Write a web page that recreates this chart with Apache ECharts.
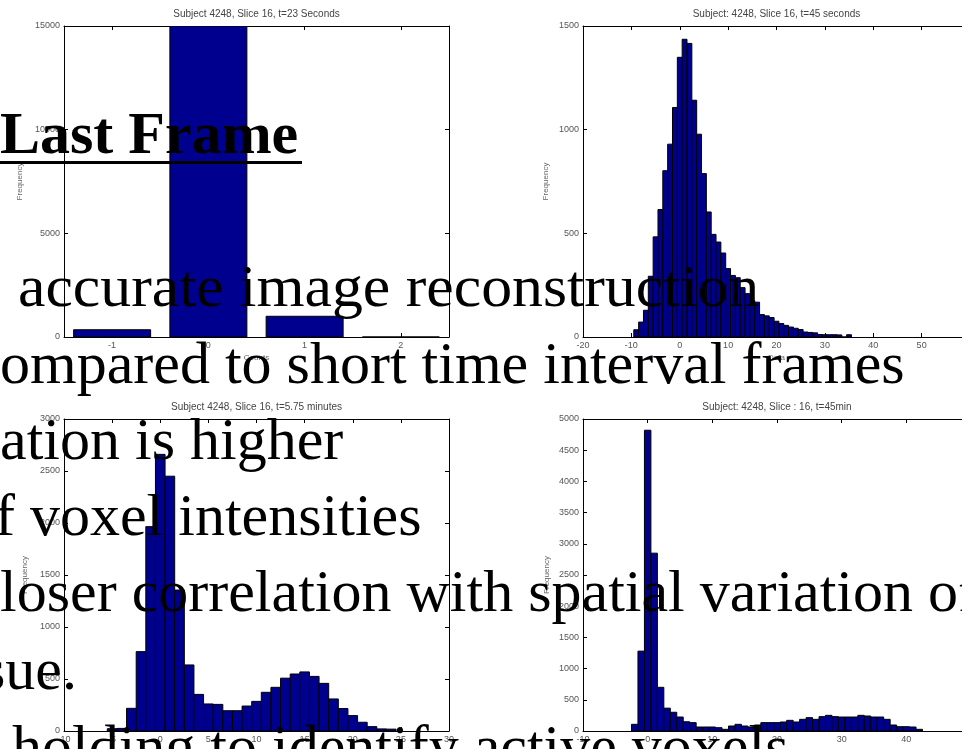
<!DOCTYPE html>
<html>
<head>
<meta charset="utf-8">
<script src="https://cdn.jsdelivr.net/npm/echarts@6.0.0/dist/echarts.min.js"></script>
<style>
html, body { margin: 0; padding: 0; background: #fff; overflow: hidden; }
#main { width: 962px; height: 749px; }
</style>
</head>
<body>
<div id="main"></div>
<script>
// histogram 1: t=23 seconds
var p1Title = 'Subject 4248, Slice 16, t=23 Seconds';
var p1Centers = [-1, 0, 1, 2];
var p1Counts = [350, 15000, 1000, 0];
var p1XTicks = [-1, 0, 1, 2];

// histogram 2: t=45 seconds
var p2Title = 'Subject: 4248, Slice 16, t=45 seconds';
var p2Centers = [-9, -8, -7, -6, -5, -4, -3, -2, -1, 0, 1, 2, 3, 4, 5, 6, 7, 8, 9, 10,
  11, 12, 13, 14, 15, 16, 17, 18, 19, 20, 21, 22, 23, 24, 25, 26, 27, 28, 29, 30,
  31, 32, 33, 34, 35];
var p2Counts = [35, 72, 129, 293, 483, 615, 802, 930, 1107, 1349, 1436, 1416, 1142, 978, 788, 603, 495, 458, 405, 330,
  297, 286, 238, 209, 176, 168, 108, 102, 94, 76, 65, 56, 48, 42, 36, 24, 22, 20, 12, 11,
  11, 11, 10, 0, 11];

// histogram 3: t=5.75 minutes
var p3Title = 'Subject 4248, Slice 16, t=5.75 minutes';
var p3Centers = [-5, -4, -3, -2, -1, 0, 1, 2, 3, 4, 5, 6, 7, 8, 9, 10, 11, 12, 13, 14,
  15, 16, 17, 18, 19, 20, 21, 22, 23, 24];
var p3Counts = [22, 25, 218, 763, 1965, 2660, 2450, 1355, 635, 352, 260, 256, 195, 195, 240, 285, 372, 420, 508, 548,
  568, 525, 458, 308, 216, 148, 84, 42, 20, 18];

// histogram 4: t=45 min
var p4Title = 'Subject: 4248, Slice : 16, t=45min';
var p4Centers = [-2, -1, 0, 1, 2, 3, 4, 5, 6, 7, 8, 9, 10, 11, 12, 13, 14, 15, 16, 17,
  18, 19, 20, 21, 22, 23, 24, 25, 26, 27, 28, 29, 30, 31, 32, 33, 34, 35, 36, 37,
  38, 39, 40, 41, 42];
var p4Counts = [107, 1280, 4820, 2850, 700, 366, 300, 224, 148, 134, 64, 64, 64, 53, 27, 80, 107, 80, 64, 96,
  134, 134, 134, 144, 171, 144, 187, 214, 187, 230, 251, 230, 224, 224, 224, 251, 240, 224, 224, 187,
  96, 69, 69, 64, 27];

// slide text lying over the figures
var slideHeading = 'Last Frame';
var slideLines = [
  'accurate image reconstruction',
  'ompared to short time interval frames',
  'ation is higher',
  'f voxel intensities',
  'loser correlation with spatial variation of',
  'sue.',
  'holding to identify active voxels'
];

function pairs(xs, ys) {
  return xs.map(function (x, i) { return [x, ys[i]]; });
}

function histItem(binWidth) {
  return function (params, api) {
    var x = api.value(0);
    var y = api.value(1);
    var a = api.coord([x - binWidth / 2, y]);
    var b = api.coord([x + binWidth / 2, 0]);
    return {
      type: 'rect',
      shape: { x: a[0], y: a[1], width: b[0] - a[0], height: b[1] - a[1] },
      style: { fill: '#00008f', stroke: '#000', lineWidth: 1 }
    };
  };
}

var panels = [
  { title: p1Title, data: pairs(p1Centers, p1Counts), bin: 0.8, box: [64, 26, 385, 311],
    xMin: -1.5, xMax: 2.5, xTicks: p1XTicks, yMax: 15000, yStep: 5000, xName: 'Counts', yGap: 40 },
  { title: p2Title, data: pairs(p2Centers, p2Counts), bin: 1, box: [583, 26, 387, 311],
    xMin: -20, xMax: 60, xStep: 10, yMax: 1500, yStep: 500, xName: 'Data', yGap: 33 },
  { title: p3Title, data: pairs(p3Centers, p3Counts), bin: 1, box: [64, 419, 385, 312],
    xMin: -10, xMax: 30, xStep: 5, yMax: 3000, yStep: 500, xName: 'Data', yGap: 35 },
  { title: p4Title, data: pairs(p4Centers, p4Counts), bin: 1, box: [583, 419, 388, 312],
    xMin: -10, xMax: 50, xStep: 10, yMax: 5000, yStep: 500, xName: 'Data', yGap: 32 }
];

var smallFont = 'Liberation Sans';
var plain = function (v) { return String(v); };
var line = { show: true, onZero: false, lineStyle: { color: '#000', width: 1 } };
var tick = { show: true, inside: true, length: 4, lineStyle: { color: '#000', width: 1 } };
var grids = [], xAxes = [], yAxes = [], series = [], graphics = [];

panels.forEach(function (p, i) {
  grids.push({ left: p.box[0], top: p.box[1], width: p.box[2], height: p.box[3],
    outerBoundsMode: 'none', containLabel: false });

  ['bottom', 'top'].forEach(function (pos) {
    var ax = {
      type: 'value', gridIndex: i, position: pos, min: p.xMin, max: p.xMax,
      axisLine: line, splitLine: { show: false },
      axisTick: Object.assign({}, tick),
      axisLabel: { show: pos === 'bottom', color: '#555', fontSize: 9, margin: 4,
        fontFamily: smallFont, formatter: plain }
    };
    if (p.xTicks) {
      ax.axisTick.customValues = p.xTicks;
      ax.axisLabel.customValues = p.xTicks;
    } else {
      ax.interval = p.xStep;
    }
    if (pos === 'bottom') {
      ax.name = p.xName;
      ax.nameLocation = 'middle';
      ax.nameGap = 17;
      ax.nameTextStyle = { color: '#666', fontSize: 8, fontFamily: smallFont };
    }
    xAxes.push(ax);
  });

  ['left', 'right'].forEach(function (pos) {
    var ay = {
      type: 'value', gridIndex: i, position: pos, min: 0, max: p.yMax, interval: p.yStep,
      axisLine: line, splitLine: { show: false }, axisTick: tick,
      axisLabel: { show: pos === 'left', color: '#555', fontSize: 9, margin: 4,
        fontFamily: smallFont, formatter: plain }
    };
    if (pos === 'left') {
      ay.name = 'Frequency';
      ay.nameLocation = 'middle';
      ay.nameGap = p.yGap;
      ay.nameTextStyle = { color: '#666', fontSize: 8, fontFamily: smallFont };
    }
    yAxes.push(ay);
  });

  series.push({
    type: 'custom', xAxisIndex: 2 * i, yAxisIndex: 2 * i, clip: true,
    renderItem: histItem(p.bin), data: p.data, silent: true
  });

  graphics.push({
    type: 'text', x: p.box[0] + p.box[2] / 2, y: p.box[1] - 12,
    style: { text: p.title, fill: '#444', font: '10px "Liberation Sans"', align: 'center', verticalAlign: 'middle' }
  });
});

// slide text, drawn over the histograms
var bigFont = '60px "Liberation Serif"';
var lineX = [18, 0, 0, -5, 0, -18, 12];
var lineStretch = [1.03, 1, 1, 1, 1, 1, 1];
var baseY = [310, 387, 463, 539, 615, 693, 770];
graphics.push({
  type: 'text', x: 0, y: 157 - 20, z: 100,
  style: { text: slideHeading, fill: '#000', font: 'bold ' + bigFont, align: 'left', verticalAlign: 'middle' }
});
graphics.push({ type: 'rect', z: 100, shape: { x: 0, y: 161, width: 302, height: 3 }, style: { fill: '#000' } });
slideLines.forEach(function (t, i) {
  graphics.push({
    type: 'text', x: lineX[i], y: baseY[i] - 20, z: 100, scaleX: lineStretch[i],
    style: { text: t, fill: '#000', font: bigFont, align: 'left', verticalAlign: 'middle' }
  });
});

var chart = echarts.init(document.getElementById('main'));
chart.setOption({
  animation: false,
  backgroundColor: '#fff',
  grid: grids,
  xAxis: xAxes,
  yAxis: yAxes,
  series: series,
  graphic: graphics
});
</script>
</body>
</html>
